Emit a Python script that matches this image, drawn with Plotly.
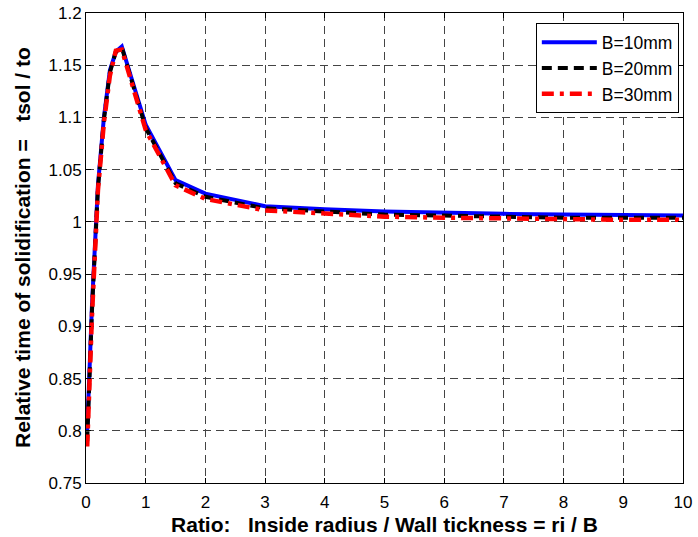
import plotly.graph_objects as go

x_vals = [0.02, 0.1, 0.2, 0.3, 0.4, 0.5, 0.6, 1.0, 1.5, 2.0, 3.0, 4.0, 5.0, 6.0, 7.0, 8.0, 9.0, 10.0]
b10 = [0.800, 0.920, 1.035, 1.100, 1.145, 1.163, 1.168, 1.093, 1.040, 1.027, 1.015, 1.012, 1.010, 1.0085, 1.0077, 1.007, 1.0065, 1.006]
b20 = [0.790, 0.915, 1.032, 1.098, 1.143, 1.163, 1.167, 1.090, 1.037, 1.024, 1.013, 1.010, 1.007, 1.006, 1.005, 1.004, 1.004, 1.004]
b30 = [0.785, 0.910, 1.030, 1.095, 1.140, 1.164, 1.165, 1.088, 1.035, 1.022, 1.011, 1.008, 1.005, 1.004, 1.003, 1.0025, 1.002, 1.002]

series_names = ["B=10mm", "B=20mm", "B=30mm"]
x_ticks = list(range(0, 11))
y_ticks = [0.75, 0.8, 0.85, 0.9, 0.95, 1, 1.05, 1.1, 1.15, 1.2]
y_title = "<b>Relative time of solidification =\u00a0\u00a0\u00a0tsol / to</b>"
x_title = "<b>Ratio:\u00a0\u00a0\u00a0Inside radius / Wall tickness = ri / B</b>"

FONT = "Liberation Sans, Arial"

fig = go.Figure()
fig.add_trace(go.Scatter(x=x_vals, y=b10, mode="lines", name=series_names[0],
                         line=dict(color="#0000ff", width=4)))
fig.add_trace(go.Scatter(x=x_vals, y=b20, mode="lines", name=series_names[1],
                         line=dict(color="#000000", width=4, dash="10px,6px")))
fig.add_trace(go.Scatter(x=x_vals, y=b30, mode="lines", name=series_names[2],
                         line=dict(color="#ff0000", width=4.5, dash="12px,6px,4px,6px")))

axis_common = dict(
    showline=True, linecolor="black", linewidth=1, mirror="allticks",
    ticks="inside", ticklen=5, tickcolor="black",
    showgrid=True, gridcolor="#444444", gridwidth=1, griddash="8px,5px",
    zeroline=False, tickfont=dict(family=FONT, size=17, color="black"),
)

fig.update_xaxes(range=[0, 10], tickvals=x_ticks, ticktext=[str(t) for t in x_ticks],
                 ticklabelstandoff=4,
                 title=dict(text=x_title, font=dict(family=FONT, size=21, color="black"),
                            standoff=5),
                 **axis_common)
fig.update_yaxes(range=[0.75, 1.2], tickvals=y_ticks, ticktext=[f"{t:g}" for t in y_ticks],
                 **axis_common)

fig.add_annotation(text=y_title, xref="paper", yref="paper", x=0, y=0.5,
                   xshift=-64, xanchor="center", yanchor="middle", textangle=-90,
                   showarrow=False, font=dict(family=FONT, size=21, color="black"))

fig.update_layout(
    width=698, height=537,
    margin=dict(l=86, r=15, t=13, b=54, autoexpand=False),
    plot_bgcolor="white", paper_bgcolor="white",
    font=dict(family=FONT, size=17, color="black"),
    showlegend=True,
    legend=dict(x=0.993, y=0.978, xanchor="right", yanchor="top",
                bordercolor="black", borderwidth=1, bgcolor="white",
                font=dict(family=FONT, size=17.5, color="black"),
                itemwidth=55),
)

fig.write_html("out.html")
